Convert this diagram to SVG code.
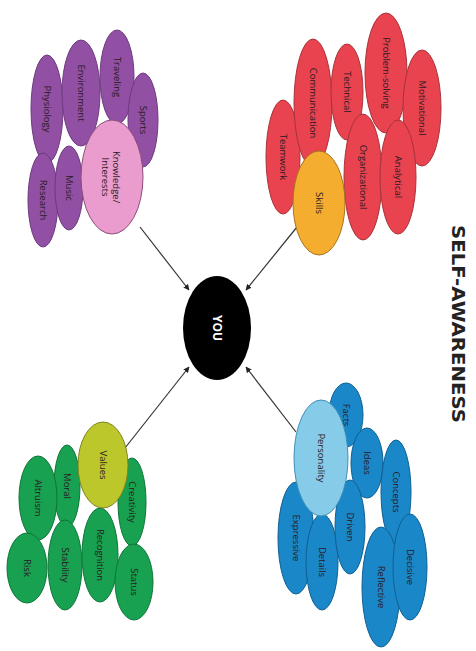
<svg xmlns="http://www.w3.org/2000/svg" width="476" height="651" viewBox="0 0 476 651">
<style>
text{font-family:"Open Sans","DejaVu Sans",sans-serif;text-anchor:middle;dominant-baseline:central;font-size:9.5px;fill:#2a1a22}
.p ellipse{fill:#9150a4;stroke:#6d3a7e;stroke-width:1}
.pk ellipse{fill:#eb9ccf;stroke:#8a4d78;stroke-width:1}
.r ellipse{fill:#e8434f;stroke:#a8323a;stroke-width:1}
.o ellipse{fill:#f5ad2f;stroke:#a87420;stroke-width:1}
.g ellipse{fill:#17a150;stroke:#0e7538;stroke-width:1}
.yg ellipse{fill:#bcc72c;stroke:#7c8520;stroke-width:1}
.b ellipse{fill:#1a87c9;stroke:#0f5f92;stroke-width:1}
.lb ellipse{fill:#86cbe8;stroke:#3f8fb8;stroke-width:1}
.you ellipse{fill:#000}
.you text{fill:#fff;font-weight:bold;font-size:12px}
#connectors line{stroke:#333;stroke-width:1.2;marker-end:url(#ah)}
.title{font-family:"DejaVu Sans",sans-serif;font-weight:bold;font-size:18px;fill:#222}
</style>
<defs>
<marker id="ah" viewBox="0 0 10 10" refX="9" refY="5" markerWidth="5" markerHeight="5" orient="auto">
<path d="M0,0L10,5L0,10z" fill="#222"/>
</marker>
</defs>
<rect width="476" height="651" fill="#fff"/>
<g id="connectors">
<line x1="140" y1="227" x2="189" y2="290"/>
<line x1="297" y1="227" x2="246" y2="290"/>
<line x1="125" y1="448" x2="189" y2="367"/>
<line x1="296" y1="432" x2="246" y2="367"/>
</g>
<g id="physiology" class="p"><ellipse cx="47" cy="109" rx="16" ry="54"/><text transform="translate(47 109) rotate(90)">Physiology</text></g>
<g id="environment" class="p"><ellipse cx="81" cy="93" rx="19" ry="53"/><text transform="translate(81 93) rotate(90)">Environment</text></g>
<g id="traveling" class="p"><ellipse cx="117" cy="77" rx="17" ry="47"/><text transform="translate(117 77) rotate(90)">Traveling</text></g>
<g id="sports" class="p"><ellipse cx="143" cy="120" rx="15" ry="47"/><text transform="translate(143 120) rotate(90)">Sports</text></g>
<g id="research" class="p"><ellipse cx="43" cy="200" rx="15" ry="47"/><text transform="translate(43 200) rotate(90)">Research</text></g>
<g id="music" class="p"><ellipse cx="69" cy="188" rx="14" ry="42"/><text transform="translate(69 188) rotate(90)">Music</text></g>
<g id="knowledge" class="pk"><ellipse cx="112" cy="177" rx="31" ry="57"/><text transform="translate(112 177) rotate(90)"><tspan x="0" y="-5">Knowledge/</tspan><tspan x="0" y="6">Interests</tspan></text></g>
<g id="teamwork" class="r"><ellipse cx="283" cy="157" rx="17" ry="57"/><text transform="translate(283 157) rotate(90)">Teamwork</text></g>
<g id="communication" class="r"><ellipse cx="313" cy="103" rx="19" ry="64"/><text transform="translate(313 103) rotate(90)">Communication</text></g>
<g id="technical" class="r"><ellipse cx="347" cy="92" rx="16" ry="48"/><text transform="translate(347 92) rotate(90)">Technical</text></g>
<g id="problem-solving" class="r"><ellipse cx="386" cy="73" rx="21" ry="60"/><text transform="translate(386 73) rotate(90)">Problem-solving</text></g>
<g id="motivational" class="r"><ellipse cx="422" cy="108" rx="19" ry="58"/><text transform="translate(422 108) rotate(90)">Motivational</text></g>
<g id="organizational" class="r"><ellipse cx="363" cy="177" rx="19" ry="63"/><text transform="translate(363 177) rotate(90)">Organizational</text></g>
<g id="analytical" class="r"><ellipse cx="398" cy="177" rx="18" ry="57"/><text transform="translate(398 177) rotate(90)">Analytical</text></g>
<g id="skills" class="o"><ellipse cx="319" cy="203" rx="26" ry="52"/><text transform="translate(319 203) rotate(90)">Skills</text></g>
<g id="moral" class="g"><ellipse cx="67" cy="486" rx="13" ry="41"/><text transform="translate(67 486) rotate(90)">Moral</text></g>
<g id="altruism" class="g"><ellipse cx="38" cy="498" rx="19" ry="42"/><text transform="translate(38 498) rotate(90)">Altruism</text></g>
<g id="risk" class="g"><ellipse cx="27" cy="568" rx="20" ry="35"/><text transform="translate(27 568) rotate(90)">Risk</text></g>
<g id="stability" class="g"><ellipse cx="65" cy="565" rx="17" ry="45"/><text transform="translate(65 565) rotate(90)">Stability</text></g>
<g id="recognition" class="g"><ellipse cx="100" cy="555" rx="18" ry="47"/><text transform="translate(100 555) rotate(90)">Recognition</text></g>
<g id="creativity" class="g"><ellipse cx="132" cy="502" rx="14" ry="44"/><text transform="translate(132 502) rotate(90)">Creativity</text></g>
<g id="status" class="g"><ellipse cx="134" cy="582" rx="19" ry="38"/><text transform="translate(134 582) rotate(90)">Status</text></g>
<g id="values" class="yg"><ellipse cx="103" cy="465" rx="25" ry="43"/><text transform="translate(103 465) rotate(90)">Values</text></g>
<g id="facts" class="b"><ellipse cx="346" cy="415" rx="17" ry="32"/><text transform="translate(346 415) rotate(90)">Facts</text></g>
<g id="ideas" class="b"><ellipse cx="367" cy="463" rx="16" ry="35"/><text transform="translate(367 463) rotate(90)">Ideas</text></g>
<g id="concepts" class="b"><ellipse cx="396" cy="492" rx="15" ry="52"/><text transform="translate(396 492) rotate(90)">Concepts</text></g>
<g id="expressive" class="b"><ellipse cx="296" cy="538" rx="18" ry="56"/><text transform="translate(296 538) rotate(90)">Expressive</text></g>
<g id="details" class="b"><ellipse cx="322" cy="562" rx="16" ry="48"/><text transform="translate(322 562) rotate(90)">Details</text></g>
<g id="driven" class="b"><ellipse cx="350" cy="527" rx="15" ry="47"/><text transform="translate(350 527) rotate(90)">Driven</text></g>
<g id="reflective" class="b"><ellipse cx="381" cy="587" rx="19" ry="60"/><text transform="translate(381 587) rotate(90)">Reflective</text></g>
<g id="decisive" class="b"><ellipse cx="410" cy="567" rx="17" ry="53"/><text transform="translate(410 567) rotate(90)">Decisive</text></g>
<g id="personality" class="lb"><ellipse cx="321" cy="458" rx="27" ry="58"/><text transform="translate(321 458) rotate(90)">Personality</text></g>
<g id="you" class="you"><ellipse cx="217" cy="328" rx="34" ry="52"/><text transform="translate(217 328) rotate(90)">YOU</text></g>
<text class="title" transform="translate(458 324) rotate(90)" textLength="198" lengthAdjust="spacingAndGlyphs">SELF-AWARENESS</text>
</svg>
